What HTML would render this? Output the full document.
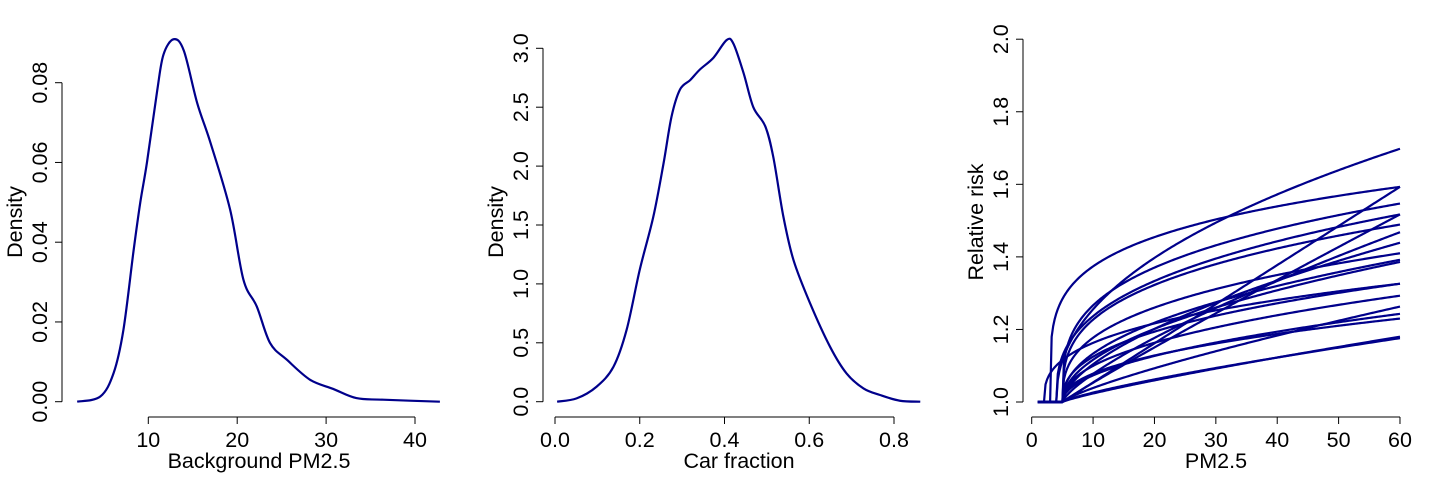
<!DOCTYPE html>
<html><head><meta charset="utf-8"><style>
html,body{margin:0;padding:0;background:#fff;}
svg text{font-family:"Liberation Sans",sans-serif;font-size:21.5px;fill:#000;}
</style></head><body>
<svg id="c" width="1440" height="480" xmlns="http://www.w3.org/2000/svg"></svg>
<script>
// Panel 1: Background PM2.5 density
const p1X = [2.0,4.6,6.1,7.2,8.35,9.1,9.85,11.0,11.7,12.85,14.0,15.5,17.0,19.2,20.7,22.2,23.7,25.6,28.2,30.8,33.4,36.4,42.8];
const p1Y = [0,0.0013,0.0072,0.018,0.038,0.050,0.060,0.078,0.087,0.0909,0.088,0.0749,0.0649,0.0482,0.0306,0.0239,0.0147,0.0105,0.0055,0.0032,0.0009,0.0005,0];
const p1XTicks = [10,20,30,40];
const p1YTicks = [0,0.02,0.04,0.06,0.08];
const p1YLabels = ["0.00","0.02","0.04","0.06","0.08"];
// Panel 2: Car fraction density
const p2X = [0.005,0.051,0.098,0.138,0.169,0.2,0.232,0.256,0.275,0.295,0.319,0.342,0.374,0.405,0.421,0.445,0.468,0.496,0.515,0.539,0.563,0.602,0.649,0.688,0.728,0.767,0.814,0.862];
const p2Y = [0,0.028,0.127,0.297,0.61,1.12,1.57,2.02,2.42,2.65,2.73,2.82,2.92,3.07,3.04,2.79,2.50,2.34,2.08,1.57,1.20,0.835,0.467,0.24,0.113,0.057,0.008,0];
const p2XTicks = [0,0.2,0.4,0.6,0.8];
const p2XLabels = ["0.0","0.2","0.4","0.6","0.8"];
const p2YTicks = [0,0.5,1,1.5,2,2.5,3];
const p2YLabels = ["0.0","0.5","1.0","1.5","2.0","2.5","3.0"];
// Panel 3: relative risk curves (threshold, RR at 60, shape exponent)
const rrThreshold = [4,3,5,5,5,4,5,5,5,5,5,5,2,5,5,5,5,5,5,5];
const rrAt60 = [1.698,1.593,1.593,1.547,1.517,1.517,1.489,1.468,1.439,1.41,1.392,1.386,1.326,1.326,1.293,1.263,1.243,1.23,1.18,1.176];
const rrShape = [0.45,0.22,1.0,0.3,0.95,0.35,0.32,0.75,0.6,0.35,0.45,0.5,0.35,0.4,0.45,0.8,0.5,0.45,0.85,0.8];
const p3XTicks = [0,10,20,30,40,50,60];
const p3YTicks = [1.0,1.2,1.4,1.6,1.8,2.0];
const p3YLabels = ["1.0","1.2","1.4","1.6","1.8","2.0"];

const svg = document.getElementById('c');
const NS = 'http://www.w3.org/2000/svg';
function mk(tag, attrs, parent){const e=document.createElementNS(NS,tag);for(const k in attrs)e.setAttribute(k,attrs[k]);(parent||svg).appendChild(e);return e;}
const COL = '#00008b';

function panel(cfg){
  const g = mk('g',{});
  
  
  const sx = v => cfg.x0 + (v - cfg.xv0) * cfg.xs;
  const sy = v => cfg.y0 - (v - cfg.yv0) * cfg.ys;
  const xa = mk('g',{},g);
  
  
  const xt = cfg.xTicks;
  mk('line',{x1:sx(xt[0]),x2:sx(xt[xt.length-1]),y1:417,y2:417,stroke:'#000','stroke-width':1},xa);
  xt.forEach((t,i)=>{
    mk('line',{x1:sx(t),x2:sx(t),y1:417,y2:424,stroke:'#000','stroke-width':1},xa);
    const tx = mk('text',{x:sx(t),y:447,'text-anchor':'middle'},xa);
    tx.textContent = cfg.xLabels ? cfg.xLabels[i] : String(t);
    
    
  });
  const xtl = mk('text',{x:cfg.xTitleX,y:468,'text-anchor':'middle'},g);
  xtl.textContent = cfg.xTitle;
  
  
  const ya = mk('g',{},g);
  
  
  const yt = cfg.yTicks;
  mk('line',{x1:cfg.ax,x2:cfg.ax,y1:sy(yt[0]),y2:sy(yt[yt.length-1]),stroke:'#000','stroke-width':1},ya);
  yt.forEach((t,i)=>{
    mk('line',{x1:cfg.ax-7,x2:cfg.ax,y1:sy(t),y2:sy(t),stroke:'#000','stroke-width':1},ya);
    const tx = mk('text',{x:0,y:0,'text-anchor':'middle',transform:`translate(${cfg.ax-15},${sy(t)}) rotate(-90)`},ya);
    tx.textContent = cfg.yLabels[i];
    
    
  });
  const ytl = mk('text',{x:0,y:0,'text-anchor':'middle',transform:`translate(${cfg.ax-40},222) rotate(-90)`},g);
  ytl.textContent = cfg.yTitle;
  
  
  return {g,sx,sy};
}

function smoothPath(pts){
  let d = `M${pts[0][0]},${pts[0][1]}`;
  for(let i=0;i<pts.length-1;i++){
    const p0=pts[Math.max(0,i-1)],p1=pts[i],p2=pts[i+1],p3=pts[Math.min(pts.length-1,i+2)];
    const c1x=p1[0]+(p2[0]-p0[0])/6,c1y=p1[1]+(p2[1]-p0[1])/6;
    const c2x=p2[0]-(p3[0]-p1[0])/6,c2y=p2[1]-(p3[1]-p1[1])/6;
    d+=` C${c1x},${c1y} ${c2x},${c2y} ${p2[0]},${p2[1]}`;
  }
  return d;
}

const P1 = panel({name:'panel-background-pm25',x0:148.3,xv0:10,xs:8.89,y0:401.7,yv0:0,ys:3987.5,
  xTicks:p1XTicks,yTicks:p1YTicks,yLabels:p1YLabels,ax:62,xTitle:'Background PM2.5',xTitleX:259,yTitle:'Density'});
const l1 = mk('path',{d:smoothPath(p1X.map((x,i)=>[P1.sx(x),P1.sy(p1Y[i])])),fill:'none',stroke:COL,'stroke-width':2.2},P1.g);



const P2 = panel({name:'panel-car-fraction',x0:555,xv0:0,xs:423.75,y0:401.7,yv0:0,ys:117.8,
  xTicks:p2XTicks,xLabels:p2XLabels,yTicks:p2YTicks,yLabels:p2YLabels,ax:543,xTitle:'Car fraction',xTitleX:739,yTitle:'Density'});
const l2 = mk('path',{d:smoothPath(p2X.map((x,i)=>[P2.sx(x),P2.sy(p2Y[i])])),fill:'none',stroke:COL,'stroke-width':2.2},P2.g);



const P3 = panel({name:'panel-relative-risk',x0:1031.7,xv0:0,xs:6.138,y0:402,yv0:1,ys:362.8,
  xTicks:p3XTicks,yTicks:p3YTicks,yLabels:p3YLabels,ax:1023,xTitle:'PM2.5',xTitleX:1216,yTitle:'Relative risk'});
rrThreshold.forEach((c,k)=>{
  const pts=[];
  for(let x=1;x<=60.001;x+=0.25){
    const r = x<=c ? 1 : 1+(rrAt60[k]-1)*Math.pow((x-c)/(60-c),rrShape[k]);
    pts.push(`${P3.sx(x).toFixed(2)},${P3.sy(r).toFixed(2)}`);
  }
  const pl = mk('polyline',{points:pts.join(' '),fill:'none',stroke:COL,'stroke-width':2.2,'stroke-linejoin':'round'},P3.g);
  
  
});
</script>
</body></html>
